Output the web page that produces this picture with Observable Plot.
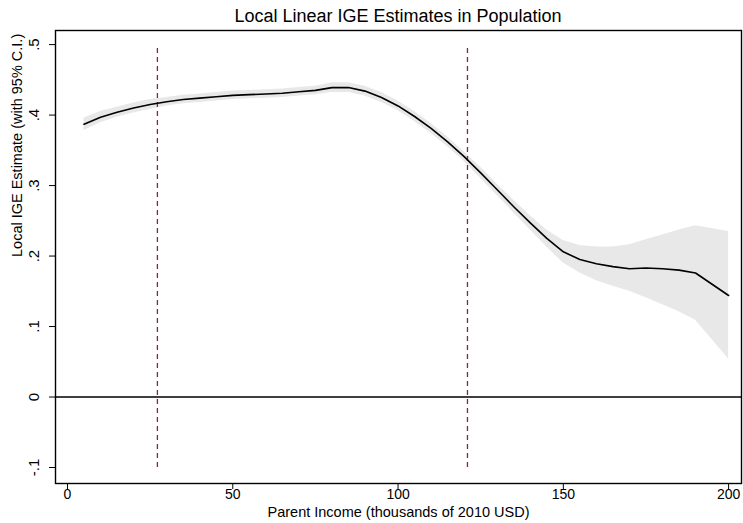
<!DOCTYPE html>
<html>
<head>
<meta charset="utf-8">
<script src="https://cdn.jsdelivr.net/npm/d3@7"></script>
<script src="https://cdn.jsdelivr.net/npm/@observablehq/plot@0.6"></script>
<style>
  body { margin: 0; background: #fff; font-family: "Liberation Sans", Arial, sans-serif; }
  #title { width: 743px; height: 26px; position: relative; }
  #title span { position: absolute; left: 398px; transform: translateX(-50%); top: 6px; font-size: 18px; line-height: 20px; color: #000; white-space: nowrap; }
</style>
</head>
<body>
<div id="title"><span>Local Linear IGE Estimates in Population</span></div>
<div id="chart"></div>
<script>
const income = [5,10,15,20,25,30,35,40,45,50,55,60,65,70,75,80,85,90,95,100,105,110,115,120,125,130,135,140,145,150,155,160,165,170,175,180,185,190,200];
const ige    = [0.387,0.397,0.404,0.410,0.415,0.419,0.422,0.424,0.426,0.428,0.429,0.430,0.431,0.433,0.435,0.439,0.439,0.434,0.425,0.413,0.398,0.381,0.362,0.341,0.318,0.294,0.270,0.247,0.225,0.206,0.195,0.189,0.185,0.182,0.183,0.182,0.180,0.176,0.144];
const ciLow  = [0.378,0.389,0.397,0.403,0.408,0.413,0.416,0.418,0.420,0.422,0.423,0.424,0.425,0.427,0.429,0.432,0.432,0.427,0.418,0.406,0.391,0.374,0.355,0.334,0.310,0.286,0.261,0.237,0.213,0.190,0.176,0.165,0.157,0.150,0.141,0.131,0.121,0.109,0.054];
const ciHigh = [0.396,0.405,0.411,0.417,0.422,0.425,0.428,0.430,0.432,0.434,0.435,0.436,0.437,0.439,0.441,0.446,0.446,0.441,0.432,0.420,0.405,0.388,0.369,0.348,0.326,0.302,0.279,0.257,0.237,0.222,0.215,0.213,0.213,0.216,0.223,0.230,0.237,0.243,0.235];
const cutoffs = [27.2, 121];
const xTicks = [0, 50, 100, 150, 200];
const yTicks = [-0.1, 0, 0.1, 0.2, 0.3, 0.4, 0.5];
const yTickLabels = ["-.1", "0", ".1", ".2", ".3", ".4", ".5"];
const xLabel = "Parent Income (thousands of 2010 USD)";
const yLabel = "Local IGE Estimate (with 95% C.I.)";

const rows = income.map((x, i) => ({x, y: ige[i], lo: ciLow[i], hi: ciHigh[i]}));

const chart = Plot.plot({
  width: 743,
  height: 497,
  marginLeft: 55,
  marginRight: 2,
  marginTop: 4,
  marginBottom: 40,
  style: {fontFamily: "'Liberation Sans', Arial, sans-serif", fontSize: "15px", color: "#000", background: "#fff"},
  x: {domain: [-3.63, 203.9]},
  y: {domain: [-0.1227, 0.52]},
  marks: [
    Plot.areaY(rows, {x: "x", y1: "lo", y2: "hi", fill: "#e8e8e8"}),
    Plot.ruleY([0], {stroke: "#000", strokeWidth: 1.4}),
    Plot.ruleX(cutoffs, {y1: -0.1, y2: 0.5, stroke: "#8e2432", strokeWidth: 1.3, strokeDasharray: "5,4"}),
    Plot.lineY(rows, {x: "x", y: "y", stroke: "#000", strokeWidth: 1.6}),
    Plot.frame({stroke: "#000", strokeWidth: 1.4}),
    Plot.axisX({ticks: xTicks, tickSize: 6, tickPadding: 0, fontSize: 14, label: null, tickFormat: d3.format("d")}),
    Plot.axisY({ticks: yTicks, tickSize: 6, tickPadding: 11, fontSize: 15, label: null, tickRotate: -90,
                tickFormat: d => yTickLabels[yTicks.findIndex(t => Math.abs(t - d) < 1e-9)]}),
    Plot.text([xLabel], {frameAnchor: "bottom", dy: 33, fontSize: 14.5, text: d => d}),
    Plot.text([yLabel], {frameAnchor: "left", dx: -38, rotate: -90, fontSize: 14.5, text: d => d})
  ]
});
document.getElementById("chart").appendChild(chart);
</script>
</body>
</html>
